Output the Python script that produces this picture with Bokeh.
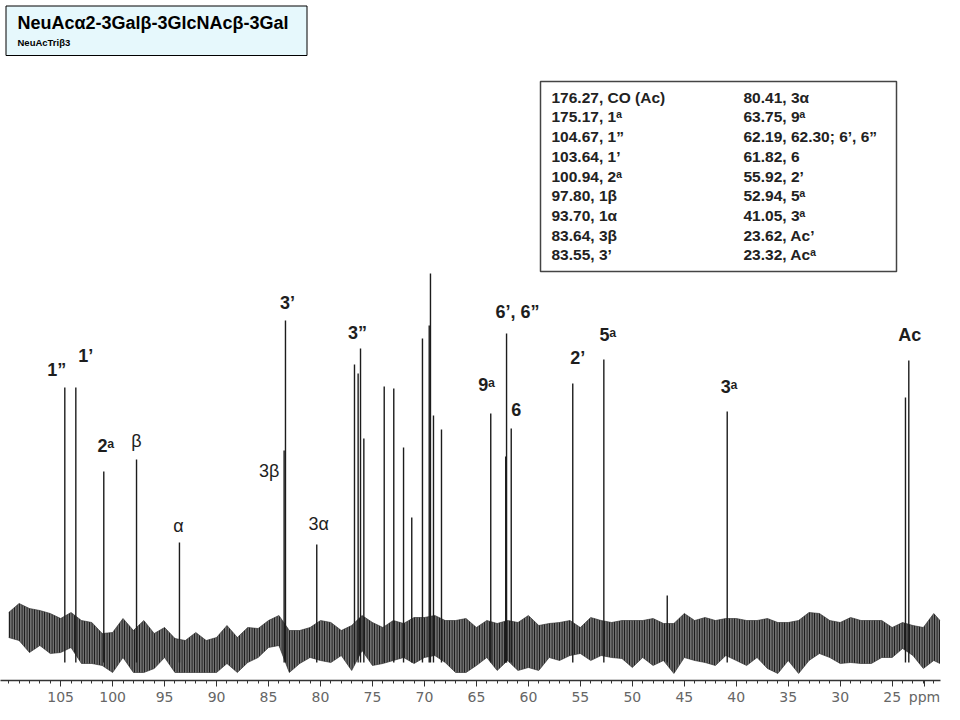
from bokeh.plotting import figure
from bokeh.models import Range1d, FixedTicker
from bokeh.embed import file_html
from bokeh.resources import INLINE
from bokeh.core.properties import value

# ---------------- data ----------------
peak_ppm = [104.60, 103.54, 100.85, 97.70, 93.57, 83.50, 83.37, 80.36,
            76.73, 76.38, 76.15, 75.83, 73.87, 72.95, 72.01, 71.22,
            70.19, 69.54, 69.42, 69.13, 68.36, 63.62, 62.18, 62.10,
            61.65, 55.73, 52.74, 46.64, 40.87, 23.72, 23.40]
peak_height = [253, 253, 169, 181, 98, 190, 320, 96,
               276, 267, 292, 202, 254, 252, 193, 123,
               302, 315, 367, 225, 211, 227, 184, 307,
               212, 257, 281, 45, 229, 243, 280]

noise_ppm = [110, 109, 108, 107, 106, 105, 104, 103, 102, 101, 100, 99, 98, 97, 96,
             95, 94, 93, 92, 91, 90, 89, 88, 87, 86, 85, 84, 83, 82, 81, 80, 79,
             78, 77, 76, 75, 74, 73, 72, 71, 70, 69, 68, 67, 66, 65, 64, 63, 62,
             61, 60, 59, 58, 57, 56, 55, 54, 53, 52, 51, 50, 49, 48, 47, 46, 45,
             44, 43, 42, 41, 40, 39, 38, 37, 36, 35, 34, 33, 32, 31, 30, 29, 28,
             27, 26, 25, 24, 23, 22, 21, 20.4]
noise_hi = [28, 37, 32, 30, 27, 22, 28, 20, 18, 7, 8, 22, 10, 20, 7,
            13, 2, 0, 8, 0, 3, 15, 3, 13, 12, 20, 25, 10, 10, 13, 20, 18,
            10, 15, 25, 18, 13, 20, 17, 23, 23, 25, 20, 20, 22, 13, 20, 17, 20,
            18, 25, 15, 17, 18, 20, 13, 23, 20, 18, 20, 20, 20, 22, 17, 17, 27,
            20, 23, 20, 22, 22, 20, 20, 22, 18, 18, 20, 28, 27, 20, 18, 23, 20,
            20, 20, 13, 18, 15, 13, 27, 20]
noise_lo = [3, 0, -12, -5, -13, -12, -7, -23, -23, -25, -32, -17, -32, -32, -28,
            -17, -32, -32, -32, -32, -32, -23, -32, -22, -17, -7, -5, -32, -23, -17, -20, -22,
            -15, -30, -10, -25, -23, -20, -17, -23, -17, -15, -22, -32, -32, -25, -17, -30, -20,
            -30, -27, -30, -17, -20, -15, -13, -20, -15, -17, -18, -27, -17, -25, -20, -33, -17,
            -20, -22, -25, -15, -20, -25, -17, -28, -33, -20, -33, -20, -13, -17, -23, -22, -23,
            -23, -17, -17, -8, -15, -28, -20, -23]

major_ticks = [105, 100, 95, 90, 85, 80, 75, 70, 65, 60, 55, 50, 45, 40, 35, 30, 25]
minor_ticks = list(range(110, 20, -1))
unit_label = "ppm"

peak_labels = ["1\u201d", "1\u2019", "2\u1d43", "\u03b2", "\u03b1", "3\u2019", "3\u03b2", "3\u03b1",
               "3\u201d", "9\u1d43", "6\u2019, 6\u201d", "6", "2\u2019", "5\u1d43", "3\u1d43", "Ac"]
label_peak_index = [0, 1, 2, 3, 4, 6, 5, 7, 10, 21, 23, 24, 25, 26, 28, 30]
label_bold = [True, True, True, False, False, True, False, False,
              True, True, True, True, True, True, True, True]

table_left = ["176.27, CO (Ac)", "175.17,  1\u1d43", "104.67, 1\u201d", "103.64, 1\u2019",
              "100.94, 2\u1d43", "97.80, 1\u03b2", "93.70, 1\u03b1", "83.64, 3\u03b2", "83.55,  3\u2019"]
table_right = ["80.41, 3\u03b1", "63.75, 9\u1d43", "62.19, 62.30; 6\u2019, 6\u201d", "61.82, 6",
               "55.92, 2\u2019", "52.94, 5\u1d43", "41.05, 3\u1d43", "23.62, Ac\u2019", "23.32, Ac\u1d43"]

title_text = "NeuAc\u03b12-3Gal\u03b2-3GlcNAc\u03b2-3Gal"
subtitle_text = "NeuAcTri\u03b23"

# ---------------- layout helpers (picture pixels -> data) ----------------
PX_PER_PPM = 10.394
def X(px):
    return 80 - (px - 320) / PX_PER_PPM
def Y(py):
    return 640 - py

# label offsets from the peak top, in pixels (dx right, dy down)
label_dx = [-8, 10, 2, 0, -1, 2, -15, 2, -3, -4, 11, 5, 5, 4, 2, 1]
label_dy = [-18, -32, -26, -19, -17, -18, 20, -21, -16, -29, -22, -19, -26, -25, -25, -26]

p = figure(frame_width=940, frame_height=680,
           x_range=Range1d(X(0), X(940)), y_range=Range1d(Y(680), Y(0)),
           output_backend="svg", toolbar_location=None, y_axis_location=None,
           min_border_left=0, min_border_right=12, min_border_top=0, min_border_bottom=30)
p.grid.grid_line_color = None
p.outline_line_color = None
p.background_fill_color = "white"

# noise band
p.varea(x=noise_ppm, y1=noise_lo, y2=noise_hi, fill_color="#707070",
        hatch_pattern="|", hatch_color="#111111", hatch_scale=2.5, hatch_weight=1.1)
p.line(noise_ppm, noise_hi, line_color="#333333", line_width=0.8, line_alpha=0.8)
p.line(noise_ppm, noise_lo, line_color="#333333", line_width=0.8, line_alpha=0.8)

# peaks
p.segment(x0=peak_ppm, y0=[-22] * len(peak_ppm), x1=peak_ppm, y1=peak_height,
          line_color="#1c1c1c", line_width=1.4)

# peak labels
for bold in (True, False):
    xs, ys, ts = [], [], []
    for t, i, b, dx, dy in zip(peak_labels, label_peak_index, label_bold, label_dx, label_dy):
        if b == bold:
            xs.append(peak_ppm[i] - dx / PX_PER_PPM)
            ys.append(peak_height[i] - dy)
            ts.append(t)
    p.text(x=xs, y=ys, text=ts, text_align="center", text_baseline="middle",
           text_font=value("Liberation Sans"), text_font_size="18px",
           text_font_style="bold" if bold else "normal", text_color="#1e1e1e")

# shift table box
p.quad(left=X(540), right=X(896), top=Y(81), bottom=Y(271),
       fill_color="white", line_color="#444444", line_width=1.5)
row_y = [Y(96.7 + i * 19.7) for i in range(len(table_left))]
p.text(x=[X(551)] * len(table_left), y=row_y, text=table_left,
       text_align="left", text_baseline="middle", text_font=value("Liberation Sans"),
       text_font_size="15.5px", text_font_style="bold", text_color="#222222")
p.text(x=[X(743)] * len(table_right), y=row_y, text=table_right,
       text_align="left", text_baseline="middle", text_font=value("Liberation Sans"),
       text_font_size="15.5px", text_font_style="bold", text_color="#222222")

# title box
p.quad(left=X(5.5), right=X(306.5), top=Y(5.5), bottom=Y(55),
       fill_color="#e6f8fc", line_color="black", line_width=1)
p.text(x=[X(17)], y=[Y(22)], text=[title_text], text_align="left", text_baseline="middle",
       text_font=value("Liberation Sans"), text_font_size="18px", text_font_style="bold",
       text_color="black")
p.text(x=[X(17)], y=[Y(42)], text=[subtitle_text], text_align="left", text_baseline="middle",
       text_font=value("Liberation Sans"), text_font_size="9.5px", text_font_style="bold",
       text_color="black")

# x axis (the unit name sits in the tick-label row at the right end)
unit_pos = round(X(924), 3)
ax = p.xaxis[0]
ax.ticker = FixedTicker(ticks=major_ticks + [unit_pos], minor_ticks=minor_ticks)
ax.major_label_overrides = {unit_pos: unit_label}
ax.axis_line_color = "#333333"
ax.axis_line_width = 1.5
ax.major_tick_line_color = "#333333"
ax.minor_tick_line_color = "#333333"
ax.major_tick_in = 0
ax.major_tick_out = 6
ax.minor_tick_in = 0
ax.minor_tick_out = 3
ax.major_label_text_font = "DejaVu Sans"
ax.major_label_text_font_size = "14px"
ax.major_label_text_color = "#666666"
ax.major_label_standoff = 2

open("out.html", "w").write(file_html(p, INLINE))
